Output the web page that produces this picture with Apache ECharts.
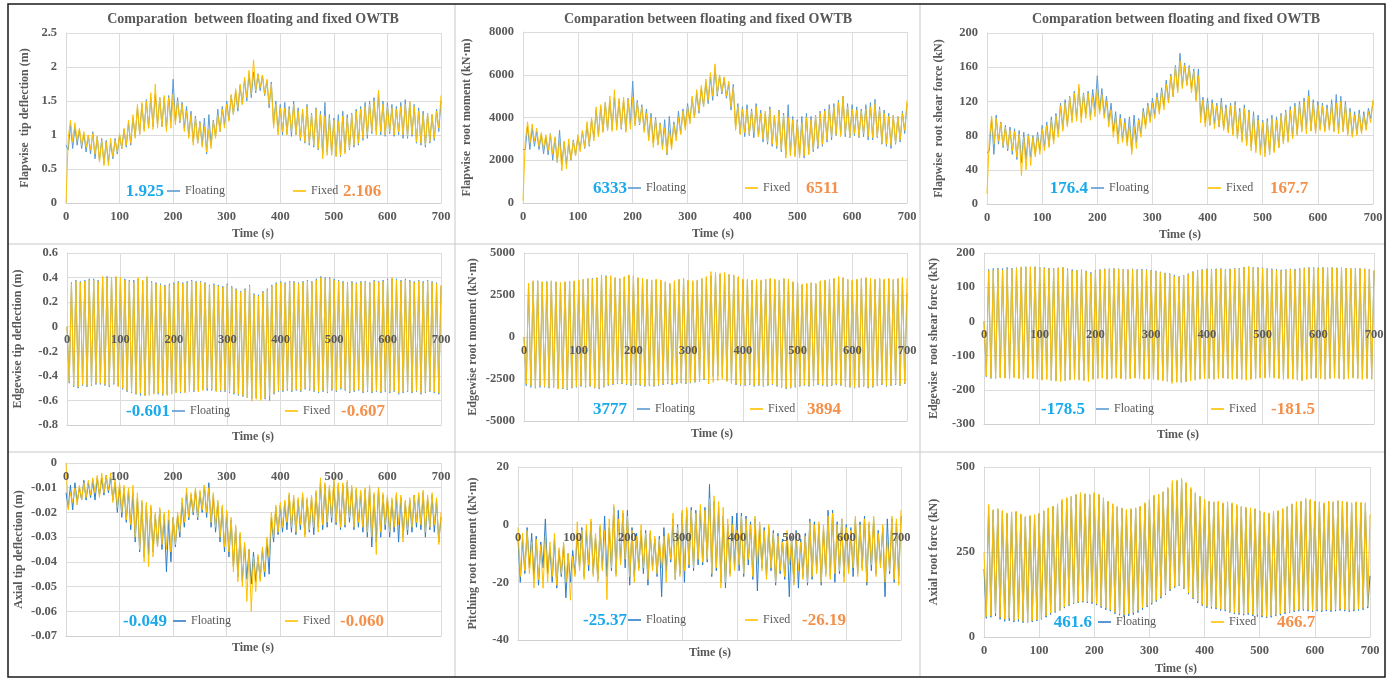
<!DOCTYPE html>
<html>
<head>
<meta charset="utf-8">
<title>Comparation between floating and fixed OWTB</title>
<script src="https://cdn.jsdelivr.net/npm/echarts/dist/echarts.min.js"></script>
<style>
  html, body { margin: 0; padding: 0; background: #fff; }
  #chart { width: 1393px; height: 679px; }
</style>
</head>
<body>
<div id="chart"></div>
<script>
// Blade response time histories, 0-700 s, sampled at equal steps.
// Each array: start value, then low/high pairs (12 pairs per 100 s).

// Flapwise tip deflection (m)
const flapTipFloating = [0.85,
  .78,1.15, .8,1.12, .85,1.08, .8,1.02, .75,1.0, .72,1.05, .65,.98, .62,.95, .58,.92, .6,.88, .65,.95, .72,1.0,
  .8,1.08, .82,1.18, .85,1.25, .98,1.4, 1.02,1.45, 1.08,1.52, 1.1,1.55, 1.12,1.6, 1.15,1.55, 1.12,1.55, 1.1,1.58, 1.2,1.82,
  1.2,1.55, 1.18,1.48, 1.1,1.42, .98,1.35, .9,1.28, .88,1.2, .85,1.25, .72,1.3, .85,1.22, .98,1.38, 1.05,1.42, 1.15,1.5,
  1.22,1.58, 1.3,1.65, 1.35,1.72, 1.45,1.82, 1.5,1.9, 1.55,1.925, 1.62,1.9, 1.65,1.88, 1.58,1.8, 1.4,1.78, 1.15,1.5, 1.05,1.45,
  1.0,1.48, 1.02,1.42, .98,1.5, 1.0,1.4, .92,1.35, .88,1.45, .85,1.32, .82,1.4, .78,1.35, .72,1.48, .75,1.3, .72,1.25,
  .7,1.3, .68,1.35, .75,1.3, .78,1.32, .82,1.38, .85,1.42, .92,1.48, .95,1.5, 1.02,1.55, 1.05,1.62, 1.0,1.5, .98,1.48,
  1.02,1.45, .98,1.42, 1.0,1.48, .95,1.52, .95,1.48, .98,1.45, .88,1.4, .85,1.35, .82,1.32, .88,1.3, .92,1.38, 1.05,1.5];
const flapTipFixed = [0,
  .95,1.22, .9,1.18, .92,1.1, .85,1.05, .82,1.0, .78,1.02, .72,.98, .6,.92, .55,.9, .55,.95, .68,.92, .75,1.02,
  .8,1.1, .85,1.22, .88,1.3, .95,1.45, 1.0,1.48, 1.05,1.5, 1.1,1.62, 1.08,1.75, 1.1,1.55, 1.12,1.58, 1.05,1.55, 1.1,1.6,
  1.15,1.5, 1.2,1.45, 1.05,1.35, .95,1.3, .85,1.25, .88,1.18, .82,1.12, .75,1.08, .8,1.2, .95,1.3, 1.05,1.38, 1.1,1.45,
  1.2,1.6, 1.3,1.68, 1.4,1.75, 1.45,1.85, 1.55,1.95, 1.6,2.106, 1.65,1.9, 1.7,1.88, 1.6,1.82, 1.45,1.75, 1.1,1.45, 1.0,1.4,
  1.05,1.4, 1.0,1.38, 1.05,1.45, 1.0,1.35, .95,1.38, .9,1.42, .88,1.3, .85,1.38, .8,1.3, .65,1.28, .7,1.25, .7,1.22,
  .68,1.2, .7,1.28, .72,1.25, .8,1.3, .85,1.35, .88,1.38, .95,1.42, 1.0,1.45, 1.05,1.5, 1.0,1.66, 1.05,1.45, 1.0,1.42,
  1.05,1.4, 1.0,1.38, 1.05,1.42, 1.0,1.45, .98,1.5, 1.0,1.42, .9,1.35, .88,1.3, .85,1.32, .9,1.3, .95,1.35, 1.1,1.58];

// Flapwise root moment (kN·m)
const flapMomentFloating = [2500,
  2500,3600, 2500,3500, 2650,3350, 2500,3200, 2300,3100, 2250,3250, 2000,3050, 1900,3400, 1800,2850, 1850,2750, 2000,2950, 2250,3100,
  2500,3350, 2550,3650, 2650,3900, 3050,4350, 3150,4500, 3350,4700, 3400,4800, 3450,4950, 3550,4800, 3450,4800, 3400,4900, 3700,5700,
  3700,4800, 3650,4600, 3400,4400, 3050,4200, 2800,4000, 2750,3750, 2650,3900, 2250,4050, 2650,3800, 3050,4300, 3250,4400, 3550,4650,
  3800,4900, 4000,5150, 4200,5350, 4500,5650, 4650,5900, 4800,6333, 5000,5950, 5100,5850, 4900,5600, 4350,5550, 3550,4650, 3250,4500,
  3100,4600, 3150,4400, 3050,4650, 3100,4350, 2850,4200, 2750,4500, 2650,4100, 2550,4350, 2400,4200, 2250,4600, 2300,4050, 2250,3900,
  2200,4050, 2100,4200, 2300,4050, 2400,4100, 2550,4300, 2650,4400, 2850,4600, 2950,4650, 3150,4800, 3250,5000, 3100,4650, 3050,4600,
  3150,4500, 3050,4400, 3100,4600, 2950,4700, 2950,4850, 3050,4500, 2750,4350, 2650,4200, 2550,4100, 2750,4050, 2850,4300, 3250,4650];
const flapMomentFixed = [100,
  2900,3800, 2800,3700, 2900,3500, 2650,3300, 2550,3200, 2450,3200, 2300,3100, 1900,2950, 1500,2900, 1600,3000, 2000,2900, 2200,3200,
  2400,3400, 2600,3800, 2700,4000, 2900,4500, 3100,4600, 3300,4700, 3400,5000, 3350,5300, 3400,4900, 3500,4950, 3300,4850, 3450,4950,
  3600,4700, 3700,4500, 3300,4200, 2900,4000, 2600,3900, 2700,3700, 2500,3500, 2300,3400, 2500,3700, 2900,4000, 3200,4300, 3400,4500,
  3700,5000, 4000,5300, 4300,5500, 4500,5800, 4800,6100, 5000,6511, 5100,6000, 5200,5900, 5000,5700, 4500,5400, 3400,4500, 3200,4400,
  3300,4400, 3200,4300, 3300,4500, 3100,4200, 3000,4300, 2850,4400, 2750,4100, 2650,4300, 2500,4100, 2100,4000, 2200,3900, 2150,3800,
  2100,3750, 2200,4000, 2250,3900, 2500,4050, 2650,4200, 2750,4300, 2950,4400, 3100,4500, 3200,4700, 3100,5000, 3250,4500, 3100,4400,
  3250,4350, 3100,4300, 3250,4400, 3100,4500, 3050,4650, 3100,4400, 2800,4200, 2750,4050, 2700,4100, 2800,4050, 2950,4200, 3400,4800];

// Flapwise root shear force (kN)
const flapShearFloating = [60,
  62,100, 58,104, 70,96, 66,92, 62,90, 58,88, 52,86, 48,84, 52,82, 55,80, 58,84, 62,92,
  66,96, 68,102, 74,106, 82,118, 88,122, 92,126, 98,132, 100,136, 102,130, 104,132, 102,134, 110,150,
  108,135, 104,126, 96,118, 85,108, 76,105, 75,100, 72,102, 62,104, 72,100, 82,112, 92,118, 98,124,
  104,130, 108,136, 114,145, 120,152, 126,162, 132,176.4, 138,165, 140,162, 135,158, 122,158, 102,125, 95,124,
  92,122, 94,118, 90,124, 88,116, 85,118, 82,120, 78,112, 75,116, 70,110, 66,108, 64,104, 60,98,
  60,100, 58,104, 62,102, 66,106, 72,110, 74,114, 78,118, 82,120, 86,124, 88,133, 86,122, 84,120,
  88,118, 86,116, 88,122, 86,128, 85,126, 86,120, 82,112, 80,108, 82,110, 84,108, 88,112, 100,120];
const flapShearFixed = [12,
  75,103, 70,100, 74,95, 68,90, 65,86, 62,85, 55,82, 33,78, 40,80, 45,78, 55,80, 58,88,
  62,92, 66,98, 70,103, 78,115, 85,118, 90,125, 95,130, 97,140, 95,128, 100,130, 98,125, 102,135,
  105,128, 100,120, 90,110, 78,102, 70,100, 72,95, 68,92, 58,90, 65,98, 78,108, 88,115, 95,118,
  100,125, 105,132, 110,140, 118,150, 125,160, 130,167.7, 135,162, 138,160, 130,155, 120,150, 95,122, 90,118,
  92,118, 88,115, 90,118, 86,112, 83,115, 80,116, 76,108, 72,112, 68,108, 62,102, 60,98, 57,95,
  55,96, 58,100, 60,98, 66,104, 70,108, 72,110, 76,114, 80,116, 84,120, 82,126, 85,118, 82,116,
  86,115, 84,112, 86,116, 84,118, 82,120, 84,116, 80,108, 78,104, 80,106, 82,104, 86,108, 95,122];

// Edgewise tip deflection (m)
const edgeTipFloating = [0,
  -.46,.36, -.49,.38, -.50,.37, -.48,.38, -.49,.39, -.48,.39, -.47,.38, -.47,.40, -.48,.41, -.49,.40, -.47,.40, -.48,.39,
  -.51,.39, -.53,.38, -.54,.38, -.55,.39, -.56,.37, -.56,.40, -.55,.37, -.54,.36, -.55,.35, -.56,.34, -.55,.35, -.54,.36,
  -.53,.37, -.54,.36, -.53,.37, -.52,.38, -.53,.37, -.52,.37, -.51,.36, -.52,.34, -.52,.35, -.52,.34, -.53,.33, -.53,.35,
  -.54,.33, -.55,.31, -.56,.29, -.57,.31, -.58,.34, -.59,.27, -.58,.26, -.59,.29, -.59,.31, -.601,.34, -.55,.36, -.53,.37,
  -.53,.36, -.52,.37, -.53,.37, -.52,.36, -.53,.37, -.51,.38, -.52,.37, -.53,.39, -.54,.41, -.53,.40, -.54,.40, -.52,.39,
  -.53,.38, -.51,.37, -.52,.36, -.54,.37, -.53,.36, -.52,.37, -.54,.37, -.53,.36, -.54,.38, -.53,.37, -.54,.38, -.53,.39,
  -.54,.39, -.53,.39, -.55,.38, -.54,.39, -.53,.38, -.54,.37, -.53,.38, -.55,.37, -.54,.38, -.53,.37, -.54,.36, -.55,.33];
const edgeTipFixed = [0,
  -.45,.35, -.48,.37, -.49,.36, -.47,.37, -.48,.38, -.47,.38, -.46,.37, -.46,.41, -.47,.40, -.48,.40, -.46,.41, -.49,.40,
  -.50,.38, -.52,.37, -.53,.36, -.55,.40, -.54,.38, -.56,.41, -.56,.36, -.55,.35, -.54,.34, -.55,.33, -.56,.34, -.55,.35,
  -.54,.36, -.53,.35, -.54,.36, -.53,.37, -.52,.36, -.53,.36, -.52,.35, -.50,.33, -.51,.34, -.53,.33, -.52,.32, -.52,.34,
  -.53,.32, -.54,.30, -.55,.28, -.56,.30, -.58,.33, -.607,.26, -.59,.25, -.60,.28, -.58,.30, -.56,.33, -.54,.35, -.52,.36,
  -.52,.35, -.51,.36, -.52,.36, -.51,.35, -.52,.36, -.50,.37, -.51,.36, -.52,.38, -.53,.40, -.52,.39, -.53,.39, -.51,.38,
  -.52,.37, -.50,.36, -.51,.35, -.53,.36, -.52,.35, -.51,.36, -.53,.36, -.52,.35, -.53,.37, -.52,.36, -.53,.37, -.52,.38,
  -.53,.40, -.52,.38, -.54,.37, -.53,.38, -.52,.37, -.53,.36, -.52,.37, -.54,.36, -.53,.37, -.52,.36, -.53,.35, -.54,.34];

// Edgewise root moment (kN·m)
const edgeMomentFloating = [0,
  -2900,3150, -3000,3300, -3050,3350, -3000,3250, -3000,3300, -3050,3300, -3000,3250, -3050,3200, -3100,3250, -3150,3300, -3050,3300, -3000,3350,
  -2950,3400, -3000,3450, -2950,3500, -3050,3500, -3100,3600, -3000,3650, -2900,3600, -2850,3500, -2800,3450, -2800,3550, -2850,3650, -2900,3600,
  -2850,3500, -2900,3450, -2950,3400, -2900,3350, -2950,3400, -2900,3350, -2850,3250, -2800,3150, -2850,3300, -2800,3400, -2750,3450, -2800,3350,
  -2750,3300, -2700,3350, -2650,3450, -2550,3550, -2400,3650, -2350,3777, -2300,3700, -2350,3650, -2600,3700, -2750,3650, -2850,3550, -2900,3400,
  -2900,3400, -2850,3350, -2950,3400, -2900,3350, -2950,3400, -2900,3450, -2850,3400, -2950,3350, -3000,3450, -3100,3400, -3050,3250, -3000,3200,
  -2950,3100, -2900,3150, -2950,3200, -2900,3150, -2850,3300, -2900,3350, -2950,3400, -2900,3450, -2850,3550, -2900,3500, -2950,3400, -3000,3350,
  -3050,3400, -3000,3450, -2950,3500, -3050,3450, -3000,3400, -2900,3450, -2850,3400, -2950,3450, -2900,3400, -2850,3450, -2900,3500, -2800,2600];
const edgeMomentFixed = [0,
  -2800,3200, -2900,3350, -3000,3300, -2900,3300, -2950,3250, -3000,3350, -2950,3300, -3100,3250, -3050,3300, -3100,3250, -3000,3350, -2950,3400,
  -2900,3450, -2950,3500, -2900,3450, -3000,3550, -3050,3700, -2950,3600, -2850,3650, -2800,3550, -2750,3500, -2750,3600, -2800,3700, -2850,3650,
  -2800,3550, -2850,3500, -2900,3450, -2850,3400, -2900,3450, -2850,3400, -2800,3300, -2750,3200, -2800,3350, -2750,3450, -2700,3500, -2750,3400,
  -2700,3350, -2650,3400, -2600,3500, -2500,3600, -2800,3894, -2700,3850, -2600,3800, -2500,3850, -2650,3750, -2750,3700, -2800,3600, -2850,3450,
  -2850,3450, -2800,3400, -2900,3450, -2850,3400, -2900,3450, -2850,3500, -2800,3450, -2900,3400, -2950,3500, -3050,3450, -3000,3300, -2950,3250,
  -2900,3150, -2850,3200, -2900,3250, -2850,3200, -2800,3350, -2850,3400, -2900,3450, -2850,3500, -2800,3600, -2850,3550, -2900,3450, -2950,3400,
  -3000,3450, -2950,3500, -2900,3550, -3000,3500, -2950,3450, -2850,3500, -2800,3450, -2900,3500, -2850,3450, -2800,3500, -2850,3550, -2750,3500];

// Edgewise root shear force (kN)
const edgeShearFloating = [0,
  -162,152, -167,155, -166,156, -164,155, -165,158, -166,156, -163,157, -166,158, -168,160, -164,159, -166,160, -168,158,
  -170,158, -168,156, -172,155, -173,157, -174,158, -172,154, -170,152, -168,150, -170,151, -172,148, -174,144, -168,150,
  -166,152, -165,154, -168,154, -166,155, -164,154, -166,153, -168,152, -166,154, -165,152, -166,153, -168,152, -167,150,
  -168,148, -170,145, -172,142, -174,140, -176,136, -177,132, -178.5,135, -176,140, -172,146, -170,150, -168,152, -167,154,
  -166,152, -168,154, -166,155, -165,152, -166,154, -168,155, -166,156, -168,159, -170,160, -168,159, -166,158, -164,157,
  -164,155, -162,154, -164,153, -166,151, -168,152, -166,154, -168,153, -170,155, -172,157, -168,158, -166,158, -165,157,
  -166,158, -168,157, -166,158, -164,157, -166,157, -168,156, -166,155, -164,156, -166,155, -168,154, -166,153, -168,148];
const edgeShearFixed = [0,
  -160,148, -165,150, -168,152, -165,150, -166,153, -168,152, -165,155, -168,160, -170,158, -166,160, -168,158, -170,159,
  -172,156, -170,154, -174,153, -175,156, -176,158, -174,150, -172,148, -170,149, -172,148, -174,146, -176,140, -170,148,
  -168,150, -166,152, -170,152, -168,154, -166,152, -168,152, -170,150, -168,152, -166,150, -168,151, -170,150, -168,148,
  -170,146, -172,143, -174,140, -176,138, -181.5,132, -178,130, -177,134, -176,138, -174,144, -172,148, -170,150, -168,152,
  -168,150, -170,152, -168,153, -166,150, -168,152, -170,153, -168,154, -170,158, -172,160, -170,158, -168,156, -166,155,
  -166,152, -164,151, -166,150, -168,148, -170,150, -168,152, -170,150, -172,152, -174,155, -170,156, -168,157, -166,155,
  -168,157, -170,156, -168,157, -166,155, -168,156, -170,155, -168,154, -166,155, -168,154, -170,153, -168,152, -170,150];

// Axial tip deflection (m)
const axialTipFloating = [-.012,
  -.018,-.009, -.019,-.008, -.016,-.01, -.015,-.007, -.015,-.008, -.014,-.007, -.015,-.006, -.013,-.006, -.013,-.005, -.012,-.006, -.015,-.008, -.02,-.009,
  -.022,-.01, -.024,-.011, -.027,-.012, -.032,-.014, -.036,-.016, -.038,-.017, -.037,-.018, -.036,-.021, -.034,-.019, -.035,-.021, -.044,-.023, -.04,-.022,
  -.034,-.021, -.03,-.016, -.026,-.012, -.023,-.013, -.021,-.011, -.023,-.012, -.02,-.009, -.022,-.008, -.026,-.013, -.028,-.016, -.032,-.018, -.036,-.02,
  -.038,-.023, -.042,-.026, -.046,-.029, -.048,-.033, -.047,-.035, -.049,-.036, -.048,-.038, -.047,-.035, -.046,-.031, -.045,-.022, -.032,-.018, -.029,-.017,
  -.028,-.016, -.027,-.013, -.028,-.014, -.029,-.015, -.027,-.013, -.029,-.015, -.028,-.014, -.029,-.012, -.026,-.008, -.027,-.009, -.026,-.01, -.024,-.008,
  -.025,-.009, -.027,-.009, -.026,-.008, -.024,-.01, -.027,-.011, -.026,-.012, -.028,-.011, -.03,-.01, -.034,-.013, -.032,-.01, -.03,-.013, -.027,-.014,
  -.03,-.015, -.028,-.013, -.032,-.014, -.03,-.016, -.029,-.015, -.028,-.013, -.026,-.013, -.027,-.012, -.03,-.014, -.027,-.013, -.028,-.015, -.032,-.022];
const axialTipFixed = [0,
  -.019,-.012, -.016,-.01, -.017,-.009, -.015,-.008, -.014,-.007, -.013,-.006, -.012,-.005, -.014,-.004, -.012,-.005, -.011,-.004, -.016,-.006, -.018,-.008,
  -.02,-.009, -.023,-.01, -.025,-.009, -.03,-.012, -.035,-.015, -.04,-.016, -.042,-.017, -.038,-.02, -.034,-.018, -.033,-.02, -.035,-.019, -.036,-.022,
  -.033,-.02, -.028,-.014, -.024,-.01, -.022,-.012, -.02,-.01, -.022,-.011, -.019,-.009, -.02,-.01, -.024,-.012, -.026,-.015, -.03,-.017, -.034,-.019,
  -.036,-.022, -.044,-.025, -.048,-.028, -.05,-.032, -.056,-.035, -.06,-.038, -.052,-.037, -.048,-.034, -.044,-.03, -.038,-.02, -.03,-.017, -.028,-.016,
  -.026,-.015, -.024,-.012, -.026,-.013, -.028,-.014, -.025,-.012, -.03,-.014, -.027,-.013, -.026,-.011, -.028,-.006, -.025,-.008, -.024,-.009, -.022,-.006,
  -.024,-.008, -.026,-.008, -.025,-.007, -.022,-.009, -.026,-.01, -.024,-.011, -.026,-.01, -.028,-.009, -.03,-.012, -.037,-.01, -.028,-.012, -.025,-.013,
  -.028,-.014, -.026,-.012, -.025,-.013, -.032,-.015, -.027,-.014, -.026,-.013, -.024,-.012, -.025,-.011, -.028,-.013, -.026,-.012, -.025,-.014, -.033,-.02];

// Pitching root moment (kN·m)
const pitchFloating = [-5,
  -20,-5, -17,-1, -15,-3, -19,-4, -21,-6, -15,2, -17,-8, -20,-5, -22,-9, -18,-7, -25.37,-10, -20,-9,
  -17,-3, -15,-1, -18,-2, -16,1, -17,-4, -19,-1, -15,3, -18,-1, -16,6, -17,5, -13,4, -15,5,
  -21,-1, -18,-3, -15,-2, -17,-2, -21,-3, -15,-5, -18,-4, -25,-1, -16,-3, -13,2, -19,0, -17,4,
  -20,5, -15,6, -16,5, -14,5, -14,6, -13,14, -18,8, -16,6, -20,3, -22,0, -17,3, -15,4,
  -16,4, -18,3, -14,1, -19,2, -23,0, -15,-1, -18,-1, -16,-2, -21,-3, -17,-5, -19,-3, -25,-4,
  -20,-2, -22,-5, -18,-3, -21,2, -19,1, -16,0, -21,-1, -17,5, -18,5, -20,1, -17,2, -18,0,
  -16,-1, -18,2, -17,1, -15,3, -21,0, -16,2, -17,-2, -14,-1, -25,2, -17,2, -20,1, -18,3];
const pitchFixed = [-1,
  -18,-3, -16,-2, -17,-6, -22,-5, -19,-7, -22,-4, -20,-6, -18,-3, -21,-8, -17,-6, -20,-10, -26.19,-11,
  -18,1, -16,-2, -19,0, -14,2, -18,-3, -20,0, -16,-2, -26,2, -15,7, -18,2, -14,5, -12,3,
  -18,-2, -20,-4, -16,0, -15,-3, -19,-2, -16,-4, -17,-5, -15,-4, -20,-3, -12,4, -19,-1, -18,5,
  -16,6, -14,5, -15,4, -12,7, -13,5, -12,9, -17,10, -15,8, -22,6, -20,2, -18,0, -16,-2,
  -14,3, -17,2, -12,0, -18,3, -14,1, -16,-2, -19,0, -15,-3, -20,-4, -16,-6, -18,-2, -14,-5,
  -21,-3, -16,-6, -19,-4, -20,1, -18,0, -17,1, -20,0, -18,3, -19,4, -17,0, -16,2, -20,-1,
  -17,-2, -15,3, -18,0, -16,2, -20,1, -14,3, -18,-3, -15,0, -20,-5, -16,3, -19,2, -21,5];

// Axial root force (kN)
const axialForceFloating = [200,
  55,385, 58,372, 62,375, 52,370, 46,362, 48,365, 44,368, 46,360, 42,352, 43,355, 44,358, 47,362,
  52,370, 58,378, 66,384, 72,390, 78,400, 85,408, 92,412, 98,418, 100,422, 102,420, 100,418, 98,422,
  94,418, 86,408, 80,398, 76,390, 68,382, 64,378, 60,372, 62,375, 66,378, 72,383, 80,392, 88,402,
  96,414, 104,418, 114,426, 124,436, 136,452, 145,458, 150,461.6, 142,452, 126,436, 112,422, 100,412, 92,402,
  86,398, 84,396, 82,398, 78,392, 76,395, 72,392, 68,386, 66,382, 64,380, 66,378, 62,376, 60,370,
  58,365, 56,362, 58,368, 62,370, 64,376, 68,382, 72,390, 74,396, 76,398, 78,404, 76,402, 74,398,
  76,396, 74,392, 76,398, 74,396, 76,400, 78,398, 76,396, 74,392, 76,396, 78,394, 80,392, 85,180];
const axialForceFixed = [250,
  60,390, 62,375, 70,378, 58,372, 52,365, 55,368, 48,370, 52,362, 45,355, 45,358, 48,360, 50,365,
  55,372, 62,380, 70,385, 75,392, 80,405, 88,410, 95,415, 100,420, 102,425, 105,422, 104,420, 102,425,
  98,420, 90,410, 85,400, 80,392, 72,385, 68,380, 65,375, 68,378, 72,380, 78,385, 85,395, 92,405,
  100,418, 108,420, 118,428, 128,440, 140,460, 148,462, 152,466.7, 145,455, 130,440, 115,425, 105,415, 95,405,
  90,400, 88,398, 85,400, 82,395, 80,398, 75,395, 72,390, 70,385, 68,382, 70,380, 66,378, 65,372,
  62,368, 60,365, 62,370, 65,372, 68,378, 72,385, 75,392, 78,398, 80,400, 82,408, 80,405, 78,400,
  80,398, 78,395, 80,400, 78,398, 80,402, 82,400, 80,398, 78,395, 80,398, 82,396, 84,395, 90,360];

// Time axis [min, max, interval] and panel titles
const TIME_RANGE = [0, 700, 100];
const TITLE_TEXT = ['Comparation  between floating and fixed OWTB', 'Comparation between floating and fixed OWTB', 'Comparation between floating and fixed OWTB'];

const FONT = '"Liberation Serif", "Times New Roman", serif';
const GREY = '#595959';
const BLUE = '#5B9BD5', BLUE_DARK = '#2E7DC8', GOLD = '#FFC000';
const NUM_BLUE = '#1AA9EC', NUM_ORANGE = '#F4904A';

// Layout of the nine panels (plot box: left, top, width, height)
const panels = [
  { box: [66, 33, 375, 170], y: [0, 2.5, 0.5], name: 'Flapwise  tip deflection (m)', gap: 35,
    floating: flapTipFloating, fixed: flapTipFixed, ext: 'max', dec: 3, leg: [164, 167, 293, 343, 192], time: [253, 234], blue: BLUE },
  { box: [523, 32, 384, 171], y: [0, 8000, 2000], name: 'Flapwise  root moment (kN·m)', gap: 50,
    floating: flapMomentFloating, fixed: flapMomentFixed, ext: 'max', dec: 0, leg: [627, 628, 745, 806, 189], time: [713, 234], blue: BLUE },
  { box: [987, 33, 386, 171], y: [0, 200, 40], name: 'Flapwise  root shear force (kN)', gap: 42,
    floating: flapShearFloating, fixed: flapShearFixed, ext: 'max', dec: 1, leg: [1088, 1091, 1208, 1270, 189], time: [1180, 235], blue: BLUE },
  { box: [67, 253, 374, 172], y: [-0.8, 0.6, 0.2], name: 'Edgewise tip deflection (m)', gap: 43,
    floating: edgeTipFloating, fixed: edgeTipFixed, ext: 'min', dec: 3, leg: [170, 172, 285, 341, 412], time: [253, 437], blue: BLUE },
  { box: [524, 253, 383, 168], y: [-5000, 5000, 2500], name: 'Edgewise root moment (kN·m)', gap: 45,
    floating: edgeMomentFloating, fixed: edgeMomentFixed, ext: 'max', dec: 0, leg: [627, 637, 750, 807, 410], time: [712, 434], blue: BLUE },
  { box: [984, 253, 390, 171], y: [-300, 200, 100], name: 'Edgewise  root shear force (kN)', gap: 44,
    floating: edgeShearFloating, fixed: edgeShearFixed, ext: 'min', dec: 1, leg: [1085, 1096, 1211, 1271, 410], time: [1178, 435], blue: BLUE },
  { box: [66, 463, 375, 173], y: [-0.07, 0, 0.01], name: 'Axial tip deflection (m)', gap: 41,
    floating: axialTipFloating, fixed: axialTipFixed, ext: 'min', dec: 3, leg: [167, 173, 285, 340, 622], time: [253, 648], blue: BLUE_DARK },
  { box: [518, 467, 383, 173], y: [-40, 20, 20], name: 'Pitching root moment (kN·m)', gap: 39,
    floating: pitchFloating, fixed: pitchFixed, ext: 'min', dec: 2, leg: [627, 628, 745, 802, 621], time: [710, 653], blue: BLUE_DARK },
  { box: [984, 467, 386, 170], y: [0, 500, 250], name: 'Axial root force (kN)', gap: 44,
    floating: axialForceFloating, fixed: axialForceFixed, ext: 'max', dec: 1, leg: [1092, 1098, 1211, 1277, 623], time: [1176, 669], blue: BLUE_DARK }
];

function toPoints(vals) {
  const step = (TIME_RANGE[1] - TIME_RANGE[0]) / (vals.length - 1);
  return vals.map((v, i) => [TIME_RANGE[0] + i * step, v]);
}
function extreme(vals, kind) {
  return kind === 'max' ? Math.max.apply(null, vals) : Math.min.apply(null, vals);
}
function tickText(v) {
  return String(Math.round(v * 1000) / 1000);
}

const grids = [], xAxes = [], yAxes = [], series = [], legends = [], graphics = [];
const tickLabel = { fontFamily: FONT, fontWeight: 'bold', fontSize: 12.5, color: GREY, formatter: tickText };

panels.forEach((p, i) => {
  grids.push({ left: p.box[0], top: p.box[1], width: p.box[2], height: p.box[3], containLabel: false, outerBoundsMode: 'none' });
  // distance from the bottom of the plot to the zero line of the value axis
  const zeroLift = p.box[3] * (0 - p.y[0]) / (p.y[1] - p.y[0]);
  // base time axis: vertical gridlines and bottom line
  xAxes.push({
    type: 'value', gridIndex: i, position: 'bottom', min: TIME_RANGE[0], max: TIME_RANGE[1], interval: TIME_RANGE[2],
    axisLine: { show: true, onZero: false, lineStyle: { color: '#d0d0d0', width: 1 } },
    axisTick: { show: false }, axisLabel: { show: false },
    splitLine: { show: true, lineStyle: { color: '#dcdcdc', width: 1 } }
  });
  // time labels, placed along the zero line and drawn above the curves
  xAxes.push({
    type: 'value', gridIndex: i, position: 'bottom', offset: -zeroLift, min: TIME_RANGE[0], max: TIME_RANGE[1], interval: TIME_RANGE[2], z: 6,
    axisLine: { show: false, onZero: false },
    axisTick: { show: false }, splitLine: { show: false },
    axisLabel: Object.assign({ margin: 7 }, tickLabel)
  });
  yAxes.push({
    type: 'value', gridIndex: i, min: p.y[0], max: p.y[1], interval: p.y[2],
    name: p.name, nameLocation: 'middle', nameRotate: 90, nameGap: p.gap, nameMoveOverlap: false,
    nameTextStyle: { fontFamily: FONT, fontWeight: 'bold', fontSize: 12, color: GREY },
    axisLine: { show: true, lineStyle: { color: '#d9d9d9' } },
    axisTick: { show: false },
    axisLabel: Object.assign({ margin: 9 }, tickLabel),
    splitLine: { show: true, lineStyle: { color: '#dcdcdc', width: 1 } }
  });
  series.push({
    name: 'Floating', type: 'line', xAxisIndex: 2 * i, yAxisIndex: i, data: toPoints(p.floating),
    showSymbol: false, symbol: 'none', lineStyle: { color: p.blue, width: 1 }, itemStyle: { color: p.blue }, z: 2
  });
  series.push({
    name: 'Fixed', type: 'line', xAxisIndex: 2 * i, yAxisIndex: i, data: toPoints(p.fixed),
    showSymbol: false, symbol: 'none', lineStyle: { color: GOLD, width: 1 }, itemStyle: { color: GOLD }, z: 3
  });

  const legText = { fontFamily: FONT, fontSize: 12, color: GREY };
  legends.push({ left: p.leg[1], top: p.leg[4] - 7, padding: 0, icon: 'rect', itemWidth: 13, itemHeight: 1.6, selectedMode: false,
    textStyle: legText, data: [{ name: 'Floating', itemStyle: { color: p.blue } }] });
  legends.push({ left: p.leg[2], top: p.leg[4] - 7, padding: 0, icon: 'rect', itemWidth: 13, itemHeight: 1.6, selectedMode: false,
    textStyle: legText, data: [{ name: 'Fixed', itemStyle: { color: GOLD } }] });

  const numFont = 'bold 17px ' + FONT;
  graphics.push({ type: 'text', x: p.leg[0], y: p.leg[4], z: 10,
    style: { text: extreme(p.floating, p.ext).toFixed(p.dec), font: numFont, fill: NUM_BLUE,
      align: 'right', textAlign: 'right', verticalAlign: 'middle', textVerticalAlign: 'middle' } });
  graphics.push({ type: 'text', x: p.leg[3], y: p.leg[4], z: 10,
    style: { text: extreme(p.fixed, p.ext).toFixed(p.dec), font: numFont, fill: NUM_ORANGE,
      align: 'left', textAlign: 'left', verticalAlign: 'middle', textVerticalAlign: 'middle' } });
  graphics.push({ type: 'text', x: p.time[0], y: p.time[1], z: 10,
    style: { text: 'Time (s)', font: 'bold 12px ' + FONT, fill: GREY,
      align: 'center', textAlign: 'center', verticalAlign: 'middle', textVerticalAlign: 'middle' } });
});

// panel frames
const SEP = '#c8c8c8';
[[455, 4, 455, 677], [920, 4, 920, 677], [8, 244, 1385, 244], [8, 452, 1385, 452]].forEach(s => {
  graphics.push({ type: 'line', z: 0, shape: { x1: s[0], y1: s[1], x2: s[2], y2: s[3] }, style: { stroke: SEP, lineWidth: 1 } });
});
graphics.push({ type: 'rect', z: 0, shape: { x: 8, y: 4, width: 1377, height: 673 }, style: { fill: 'none', stroke: '#1a1a1a', lineWidth: 1.5 } });

const titles = [248, 703, 1171].map((cx, i) => ({
  text: TITLE_TEXT[i], left: cx, top: 7, textAlign: 'center',
  textStyle: { fontFamily: FONT, fontWeight: 'bold', fontSize: 14, color: GREY }
}));

const chart = echarts.init(document.getElementById('chart'), null, { renderer: 'canvas' });
chart.setOption({
  backgroundColor: '#ffffff',
  animation: false,
  title: titles,
  grid: grids,
  xAxis: xAxes,
  yAxis: yAxes,
  legend: legends,
  series: series,
  graphic: graphics
});
</script>
</body>
</html>
